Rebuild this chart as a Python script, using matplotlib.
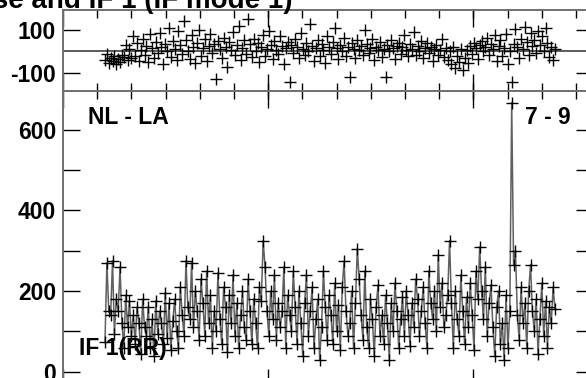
import matplotlib
matplotlib.use("Agg")
import matplotlib.pyplot as plt
from matplotlib.ticker import FixedLocator

# =========================
# DATA
# =========================
amplitude = [
    75, 270, 150, 140, 275, 95, 180, 150, 260, 120, 60, 190, 110, 175, 90, 140, 70, 160, 120, 45,
    180, 110, 90, 160, 60, 130, 40, 175, 95, 150, 120, 70, 195, 85, 170, 55, 125, 180, 100, 60,
    210, 140, 90, 275, 160, 130, 270, 110, 200, 150, 80, 230, 170, 90, 250, 120, 190, 60, 150, 100,
    245, 130, 70, 210, 160, 50, 190, 120, 240, 90, 170, 60, 140, 200, 110, 80, 230, 150, 70, 180,
    120, 60, 210, 175, 325, 260, 150, 90, 200, 130, 240, 80, 170, 110, 150, 260, 60, 190, 140, 100,
    250, 160, 70, 200, 120, 40, 170, 240, 90, 150, 210, 60, 130, 180, 30, 110, 250, 160, 80, 190,
    140, 70, 220, 100, 165, 55, 210, 275, 150, 90, 120, 200, 60, 170, 305, 230, 140, 80, 250, 110,
    60, 180, 130, 40, 160, 215, 90, 140, 70, 190, 120, 30, 170, 100, 220, 150, 60, 130, 185, 90,
    200, 140, 65, 170, 110, 230, 180, 90, 150, 210, 120, 60, 250, 170, 130, 200, 100, 290, 160, 220,
    110, 140, 190, 325, 170, 60, 200, 130, 90, 240, 150, 70, 185, 110, 220, 140, 55, 250, 180, 310,
    200, 130, 260, 90, 170, 215, 110, 40, 160, 200, 70, 120, 30, 190, 60, 150, 667, 265, 300, 140,
    80, 210, 120, 170, 60, 200, 265, 150, 100, 180, 45, 130, 220, 90, 175, 60, 160, 120, 210, 155,
]

phase = [
    -40, -10, -55, -30, -45, -20, -60, -35, -50, -15, -25, 30, -40, 10, -30, 70, -20, 40, -45, 5,
    60, -15, 25, -50, 80, 15, -30, 45, -5, 85, 20, -60, 35, 0, 110, -25, 50, 10, -40, 95,
    30, -10, 140, 55, 0, -35, 75, 20, -55, 40, 100, -20, 15, 60, -45, 25, 80, -5, 35, -130,
    50, 10, -30, 65, 20, -70, 45, 5, 90, -15, 30, 120, -40, 15, 55, -10, 150, 35, -25, 60,
    0, 40, -50, 20, 75, -20, 10, 95, 30, -35, 50, 5, -10, 70, 25, -60, 15, 45, -140, 30,
    -5, 60, 20, -30, 85, 10, -15, 40, 0, 130, 25, -45, 15, 55, -20, 35, 5, -55, 70, 20,
    -10, 45, 110, 15, -35, 30, 0, 65, -20, 20, -120, 40, 10, -30, 55, 5, 25, -15, 100, 35,
    -5, 15, 60, -40, 20, 5, 45, -25, 10, -120, 30, 0, 55, 15, -35, 25, 40, -10, 20, 75,
    5, -20, 35, 10, 90, -15, 25, 0, 50, -30, 15, 40, -5, 20, -45, 10, 30, -15, 5, 60,
    -25, 15, -40, 0, -60, 20, -75, -20, -50, 10, -85, -30, 5, -55, 25, -10, 40, 15, -35, 30,
    50, 0, 20, 65, -15, 35, 10, 75, -45, 25, 55, -20, 15, 80, -60, 0, -140, 35, 105, 20,
    -30, 60, 10, 115, 45, -15, 85, 25, 55, -5, 95, 30, 70, 0, 110, 40, -25, 20, -40, 10,
]

amp_ticks = [0, 200, 400, 600]
phase_ticks = [-100, 100]
title_text = "Phase and IF 1 (IF mode 1)"
baseline_label = "NL - LA"
channel_label = "7 - 9"
if_label = "IF 1(RR)"

# =========================
# LAYOUT (pixels of a 586x378 figure)
# =========================
W, H = 586, 378
plt.rcParams["font.family"] = ["Liberation Sans", "DejaVu Sans"]
plt.rcParams["font.weight"] = "bold"
plt.rcParams["axes.unicode_minus"] = False
FS = 16.5

n = len(amplitude)
px_per_pt = 450 / (n - 1)          # data spans px 105 .. 555
x0_px = 105


def px_to_idx(px):
    return (px - x0_px) / px_per_pt


xs = list(range(n))
left_px, right_px = 63, 593
xlim = (px_to_idx(left_px), px_to_idx(right_px))
major_x = [px_to_idx(p) for p in (63, 268, 473)]
minor_x = [px_to_idx(63 + 34.2 * k) for k in range(1, 16)]

fig = plt.figure(figsize=(W / 100, H / 100), dpi=100)
ax_ph = fig.add_axes([left_px / W, 1 - 91 / H, (right_px - left_px) / W, 81 / H])
ax_am = fig.add_axes([left_px / W, -0.02, (right_px - left_px) / W, 1 - 91 / H + 0.02])

spine_col = "#707070"
for ax in (ax_ph, ax_am):
    for s in ax.spines.values():
        s.set_color(spine_col)
        s.set_linewidth(1.4)
    ax.set_xlim(*xlim)
    ax.xaxis.set_major_locator(FixedLocator(major_x))
    ax.xaxis.set_minor_locator(FixedLocator(minor_x))
    ax.tick_params(which="both", direction="in", top=True, right=True,
                   labelbottom=False, color="black", width=1)
    ax.tick_params(which="major", length=12, labelsize=FS, pad=5)
    ax.tick_params(which="minor", length=6)

# phase panel
ax_ph.axhline(0, color="#404040", lw=1.2, zorder=1)
ax_ph.plot(xs, phase, linestyle="none", marker="+", markersize=9,
           markeredgewidth=1.0, color="black", zorder=3)
ax_ph.set_ylim(-184, 193)
ax_ph.set_yticks(phase_ticks)
ax_ph.set_yticks([], minor=True)

# amplitude panel
ax_am.plot(xs, amplitude, color="#606060", lw=1.1, zorder=2)
ax_am.plot(xs, amplitude, linestyle="none", marker="+", markersize=9,
           markeredgewidth=1.0, color="black", zorder=3)
ax_am.set_ylim(-34, 696)
ax_am.set_yticks(amp_ticks)
ax_am.set_yticks([100, 300, 500], minor=True)
ax_am.tick_params(axis="y", which="minor", length=12)

for ax in (ax_ph, ax_am):
    for lab in ax.get_yticklabels():
        lab.set_fontweight("bold")

# labels
fig.text(292 / W, 1 - 8 / H, title_text, ha="right", va="baseline",
         fontsize=20, fontweight="bold")
fig.text(88 / W, 1 - 117 / H, baseline_label, ha="left", va="center",
         fontsize=FS, fontweight="bold")
fig.text(525 / W, 1 - 117 / H, channel_label, ha="left", va="center",
         fontsize=FS, fontweight="bold")
fig.text(79 / W, 1 - 349 / H, if_label, ha="left", va="center",
         fontsize=FS, fontweight="bold", zorder=0)

fig.savefig("out.png", dpi=100)
